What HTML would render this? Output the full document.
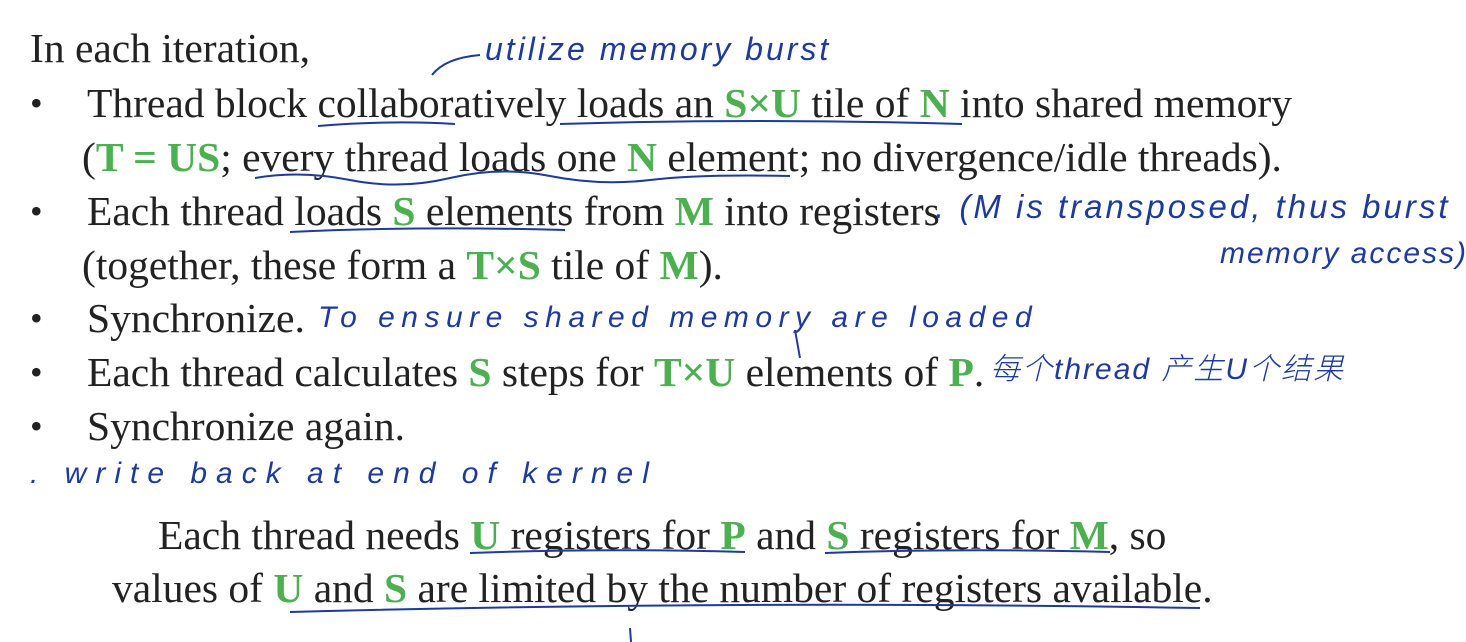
<!DOCTYPE html>
<html><head><meta charset="utf-8"><style>
body{margin:0;width:1466px;height:642px;background:#fff;overflow:hidden;position:relative;font-family:"Liberation Serif",serif;color:#222}
.t{position:absolute;font-size:41.5px;white-space:nowrap;line-height:48px}
.b{position:absolute;font-size:36px;line-height:48px;left:30px}
.g{color:#4caf50;font-weight:bold}
.h{position:absolute;font-family:"Liberation Sans","Noto Sans CJK SC",sans-serif;font-style:italic;color:#1d3a9c;font-size:30px;white-space:nowrap;line-height:36px;font-weight:300;letter-spacing:2px}
svg{position:absolute;left:0;top:0}
</style></head><body>
<div class="t" style="left:30px;top:24px">In each iteration,</div>
<div class="b" style="top:79px">•</div>
<div class="t" style="left:87px;top:79px">Thread block collaboratively loads an <span class="g">S×U</span> tile of <span class="g">N</span> into shared memory</div>
<div class="t" style="left:82px;top:133px">(<span class="g">T = US</span>; every thread loads one <span class="g">N</span> element; no divergence/idle threads).</div>
<div class="b" style="top:187px">•</div>
<div class="t" style="left:87px;top:187px">Each thread loads <span class="g">S</span> elements from <span class="g">M</span> into registers</div>
<div class="t" style="left:82px;top:241px">(together, these form a <span class="g">T×S</span> tile of <span class="g">M</span>).</div>
<div class="b" style="top:294px">•</div>
<div class="t" style="left:87px;top:294px">Synchronize.</div>
<div class="b" style="top:348px">•</div>
<div class="t" style="left:87px;top:348px">Each thread calculates <span class="g">S</span> steps for <span class="g">T×U</span> elements of <span class="g">P</span>.</div>
<div class="b" style="top:402px">•</div>
<div class="t" style="left:87px;top:402px">Synchronize again.</div>
<div class="t" style="left:158px;top:511px">Each thread needs <span class="g">U</span> registers for <span class="g">P</span> and <span class="g">S</span> registers for <span class="g">M</span>, so</div>
<div class="t" style="left:112px;top:564px">values of <span class="g">U</span> and <span class="g">S</span> are limited by the number of registers available.</div>

<div class="h" style="left:485px;top:31px;font-size:32px;letter-spacing:3px">utilize memory burst</div>
<div class="h" style="left:935px;top:189px;font-size:33px;letter-spacing:3px">. (M is transposed, thus burst</div>
<div class="h" style="left:1220px;top:236px">memory access)</div>
<div class="h" style="left:318px;top:300px;letter-spacing:6.5px">To ensure shared memory are loaded</div>
<div class="h" style="left:990px;top:352px;font-size:30px">每个thread 产生U个结果</div>
<div class="h" style="left:30px;top:456px;letter-spacing:9px">. write back at end of kernel</div>

<svg width="1466" height="642" fill="none" stroke="#1d3a9c" stroke-width="2">
<path d="M432 75 Q445 58 480 55"/>
<path d="M318 126 Q390 120 455 124"/>
<path d="M560 124 Q760 118 962 124"/>
<path d="M255 178 Q300 170 350 180 T450 178 T550 176 T650 180 T790 176"/>
<path d="M290 232 Q420 226 565 230"/>
<path d="M795 330 L800 358"/>
<path d="M470 553 Q600 548 745 552"/>
<path d="M825 553 Q960 548 1110 552"/>
<path d="M290 612 Q740 600 1200 608"/>
<path d="M630 628 L631 642"/>
</svg>
</body></html>
